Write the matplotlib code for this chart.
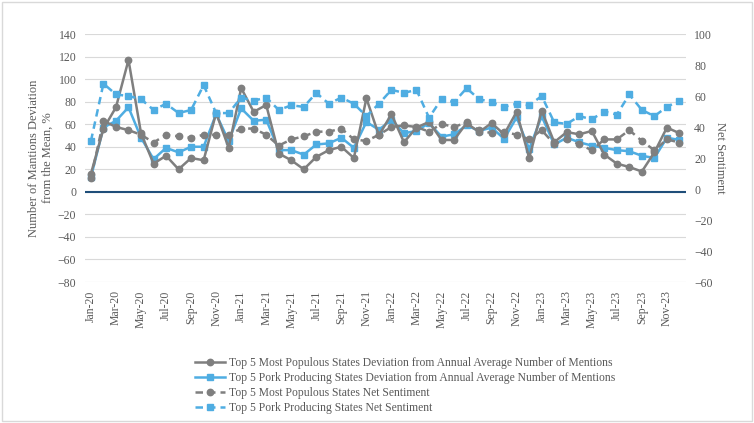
import matplotlib
matplotlib.use('Agg')
import matplotlib.pyplot as plt
from matplotlib.patches import Rectangle

plt.rcParams['font.family'] = ['Liberation Serif', 'DejaVu Serif']

months = ['Jan', 'Feb', 'Mar', 'Apr', 'May', 'Jun', 'Jul', 'Aug', 'Sep', 'Oct', 'Nov', 'Dec']
years = ['20', '21', '22', '23']
labels = [m + '-' + y for y in years for m in months]

# deviation from annual average number of mentions, % (left axis)
pop_dev = [16, 56, 75, 117, 52, 25, 32, 20, 30, 28, 70, 39,
           92, 71, 77, 34, 28, 20, 31, 37, 40, 30, 83, 50,
           69, 44, 57, 62, 46, 46, 61, 53, 61, 51, 71, 30,
           72, 44, 53, 51, 54, 33, 25, 22, 18, 35, 57, 52]
pork_dev = [13, 57, 63, 75, 48, 29, 39, 35, 40, 40, 69, 45,
            74, 63, 64, 37, 37, 33, 42, 43, 48, 39, 62, 55,
            64, 52, 54, 61, 49, 51, 59, 54, 57, 47, 66, 38,
            67, 42, 48, 44, 41, 39, 37, 36, 32, 30, 48, 46]

# net sentiment (right axis)
pop_sent = [7, 44, 40, 38, 35, 30, 35, 34, 33, 35, 35, 35,
            39, 39, 35, 28, 32, 34, 37, 37, 39, 32, 31, 35,
            40, 41, 40, 37, 42, 40, 43, 38, 36, 37, 35, 32,
            38, 29, 32, 29, 25, 32, 32, 38, 31, 25, 32, 30]
pork_sent = [31, 68, 61, 60, 58, 51, 55, 49, 51, 67, 49, 49,
             59, 57, 59, 51, 54, 53, 62, 55, 59, 55, 47, 55,
             64, 62, 64, 46, 58, 56, 65, 58, 56, 53, 55, 54,
             60, 43, 42, 47, 45, 50, 48, 61, 51, 47, 53, 57]

gray = '#7F7F7F'
blue = '#4FADE2'

fig = plt.figure(figsize=(7.54, 4.23), dpi=100)
fig.patches.append(Rectangle((0.002, 0.004), 0.996, 0.992, transform=fig.transFigure,
                             fill=False, edgecolor='#D9D9D9', linewidth=1))
ax = fig.add_axes([0.1123, 0.3333, 0.7971, 0.5863])
ax2 = ax.twinx()

x = list(range(len(labels)))

dash = (0, (3, 2))
l1, = ax.plot(x, pop_dev, color=gray, lw=1.8, marker='o', ms=4.6, zorder=4)
l2, = ax.plot(x, pork_dev, color=blue, lw=1.8, marker='s', ms=4.6, zorder=3)
l3, = ax2.plot(x, pop_sent, color=gray, lw=1.8, ls=dash, marker='o', ms=4.6)
l4, = ax2.plot(x, pork_sent, color=blue, lw=1.8, ls=dash, marker='s', ms=4.6)

ax.set_ylim(-80, 140)
ax.set_yticks(range(-80, 141, 20))
ax2.set_ylim(-60, 100)
ax2.set_yticks(range(-60, 101, 20))
ax.set_xlim(-0.5, len(labels) - 0.5)
ax.set_xticks(x[::2])
ax.set_xticklabels(labels[::2], rotation=90)

ax.grid(axis='y', color='#D9D9D9', lw=0.8)
ax.set_axisbelow(True)
ax.axhline(0, color='#1F4E79', lw=1.5, zorder=2)

for a in (ax, ax2):
    for s in a.spines.values():
        s.set_visible(False)
    a.tick_params(length=0, labelsize=8.5, colors='#595959', pad=6)

ax.set_ylabel('Number of Mantions Deviation\nfrom the Mean, %', fontsize=9, color='#595959', labelpad=3)
ax2.set_ylabel('Net Sentiment', fontsize=9, color='#595959', rotation=270, labelpad=10)

fig.legend([l1, l2, l3, l4],
           ['Top 5 Most Populous States Deviation from Annual Average Number of Mentions',
            'Top 5 Pork Producing States Deviation from Annual Average Number of Mentions',
            'Top 5 Most Populous States Net Sentiment',
            'Top 5 Pork Producing States Net Sentiment'],
           loc='upper center', bbox_to_anchor=(0.537, 0.170), frameon=False,
           fontsize=8.4, labelcolor='#595959', handlelength=2.6, handletextpad=0.3,
           labelspacing=0.25, borderpad=0)

fig.savefig('out.png', dpi=100)
